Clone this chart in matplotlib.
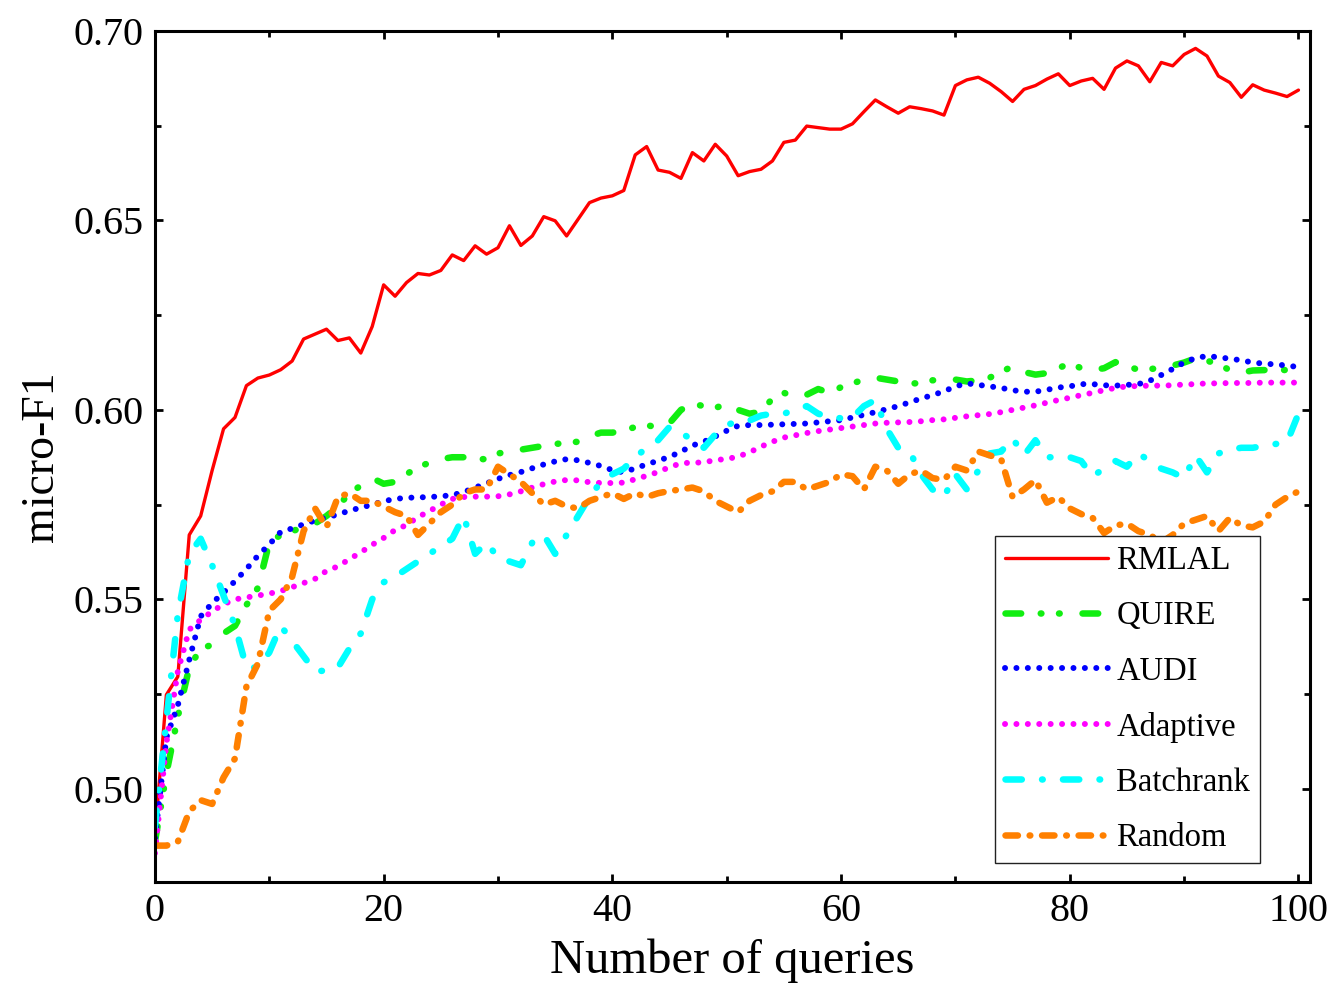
import matplotlib
matplotlib.use("Agg")
import matplotlib.pyplot as plt
from matplotlib.ticker import MultipleLocator, FormatStrFormatter

queries = list(range(0, 101))

rmlal = [0.4874, 0.5248, 0.5296, 0.5670, 0.5720, 0.5840, 0.5950, 0.5980, 0.6064, 0.6084,
         0.6092, 0.6106, 0.6129, 0.6187, 0.6200, 0.6213, 0.6183, 0.6190, 0.6150, 0.6220,
         0.6330, 0.6300, 0.6336, 0.6360, 0.6356, 0.6368, 0.6409, 0.6394, 0.6433, 0.6411,
         0.6428, 0.6486, 0.6434, 0.6459, 0.6510, 0.6499, 0.6459, 0.6503, 0.6547, 0.6559,
         0.6565, 0.6579, 0.6673, 0.6695, 0.6633, 0.6627, 0.6611, 0.6679, 0.6657, 0.6701,
         0.6670, 0.6618, 0.6629, 0.6635, 0.6657, 0.6706, 0.6712, 0.6749, 0.6745, 0.6741,
         0.6741, 0.6755, 0.6787, 0.6818, 0.6800, 0.6783, 0.6800, 0.6795, 0.6789, 0.6778,
         0.6856, 0.6871, 0.6878, 0.6862, 0.6840, 0.6814, 0.6846, 0.6856, 0.6873, 0.6887,
         0.6856, 0.6868, 0.6875, 0.6846, 0.6902, 0.6921, 0.6908, 0.6866, 0.6917, 0.6908,
         0.6938, 0.6954, 0.6934, 0.6881, 0.6864, 0.6825, 0.6858, 0.6844, 0.6836, 0.6827,
         0.6844]

quire = [0.4860, 0.5040, 0.5190, 0.5320, 0.5370, 0.5380, 0.5410, 0.5430, 0.5485, 0.5530,
         0.5650, 0.5670, 0.5680, 0.5690, 0.5700, 0.5720, 0.5745, 0.5780, 0.5800, 0.5820,
         0.5805, 0.5810, 0.5830, 0.5850, 0.5860, 0.5870, 0.5875, 0.5875, 0.5870, 0.5870,
         0.5885, 0.5890, 0.5895, 0.5900, 0.5905, 0.5910, 0.5913, 0.5916, 0.5930, 0.5940,
         0.5940, 0.5945, 0.5955, 0.5960, 0.5953, 0.5965, 0.6000, 0.6016, 0.6010, 0.6005,
         0.6016, 0.6000, 0.5990, 0.5995, 0.6030, 0.6045, 0.6035, 0.6040, 0.6055, 0.6045,
         0.6060, 0.6070, 0.6080, 0.6085, 0.6080, 0.6075, 0.6070, 0.6070, 0.6078, 0.6080,
         0.6080, 0.6075, 0.6078, 0.6085, 0.6100, 0.6115, 0.6100, 0.6093, 0.6097, 0.6110,
         0.6123, 0.6110, 0.6105, 0.6110, 0.6126, 0.6115, 0.6106, 0.6108, 0.6110, 0.6117,
         0.6125, 0.6136, 0.6130, 0.6120, 0.6105, 0.6098, 0.6104, 0.6105, 0.6106, 0.6105,
         0.6104]

audi = [0.4870, 0.5135, 0.5220, 0.5340, 0.5455, 0.5490, 0.5518, 0.5548, 0.5580, 0.5615,
        0.5645, 0.5678, 0.5687, 0.5698, 0.5708, 0.5716, 0.5724, 0.5734, 0.5742, 0.5750,
        0.5759, 0.5765, 0.5768, 0.5769, 0.5770, 0.5772, 0.5775, 0.5783, 0.5795, 0.5806,
        0.5818, 0.5828, 0.5836, 0.5846, 0.5856, 0.5864, 0.5870, 0.5867, 0.5860, 0.5852,
        0.5841, 0.5835, 0.5846, 0.5856, 0.5866, 0.5876, 0.5890, 0.5906, 0.5916, 0.5930,
        0.5945, 0.5958, 0.5960, 0.5960, 0.5961, 0.5962, 0.5963, 0.5964, 0.5967, 0.5970,
        0.5973, 0.5980, 0.5987, 0.5994, 0.6002, 0.6010, 0.6020, 0.6030, 0.6039, 0.6049,
        0.6062, 0.6070, 0.6066, 0.6062, 0.6058, 0.6052, 0.6048, 0.6048, 0.6053, 0.6059,
        0.6062, 0.6068, 0.6068, 0.6065, 0.6064, 0.6066, 0.6068, 0.6077, 0.6092, 0.6108,
        0.6125, 0.6137, 0.6142, 0.6139, 0.6135, 0.6131, 0.6125, 0.6122, 0.6120, 0.6117,
        0.6113]

adaptive = [0.4830, 0.5120, 0.5310, 0.5420, 0.5446, 0.5468, 0.5487, 0.5500, 0.5505, 0.5510,
            0.5515, 0.5522, 0.5532, 0.5543, 0.5554, 0.5575, 0.5587, 0.5606, 0.5624, 0.5644,
            0.5662, 0.5683, 0.5696, 0.5717, 0.5733, 0.5750, 0.5765, 0.5770, 0.5771, 0.5771,
            0.5772, 0.5777, 0.5785, 0.5795, 0.5804, 0.5811, 0.5815, 0.5814, 0.5809, 0.5807,
            0.5807, 0.5808, 0.5817, 0.5826, 0.5836, 0.5849, 0.5859, 0.5861, 0.5861, 0.5868,
            0.5870, 0.5877, 0.5888, 0.5903, 0.5916, 0.5927, 0.5933, 0.5939, 0.5944, 0.5948,
            0.5952, 0.5956, 0.5960, 0.5964, 0.5966, 0.5967, 0.5968, 0.5970, 0.5973, 0.5975,
            0.5979, 0.5983, 0.5986, 0.5989, 0.5994, 0.6000, 0.6006, 0.6012, 0.6019, 0.6026,
            0.6032, 0.6039, 0.6045, 0.6052, 0.6058, 0.6062, 0.6063, 0.6064, 0.6064, 0.6065,
            0.6067, 0.6068, 0.6070, 0.6070, 0.6071, 0.6071, 0.6071, 0.6072, 0.6072, 0.6072,
            0.6072]

batchrank = [0.4900, 0.5180, 0.5460, 0.5620, 0.5660, 0.5590, 0.5510, 0.5430, 0.5320, 0.5320,
             0.5360, 0.5430, 0.5390, 0.5350, 0.5310, 0.5312, 0.5320, 0.5370, 0.5410, 0.5500,
             0.5545, 0.5560, 0.5580, 0.5600, 0.5620, 0.5640, 0.5660, 0.5720, 0.5620, 0.5650,
             0.5610, 0.5600, 0.5590, 0.5650, 0.5670, 0.5620, 0.5670, 0.5720, 0.5770, 0.5810,
             0.5830, 0.5845, 0.5875, 0.5900, 0.5920, 0.5955, 0.5940, 0.5920, 0.5900, 0.5935,
             0.5960, 0.5970, 0.5972, 0.5985, 0.5990, 0.5990, 0.6000, 0.6010, 0.5990, 0.5980,
             0.5978, 0.5980, 0.6010, 0.6026, 0.5950, 0.5900, 0.5890, 0.5830, 0.5790, 0.5770,
             0.5830, 0.5790, 0.5840, 0.5885, 0.5890, 0.5925, 0.5880, 0.5920, 0.5875, 0.5875,
             0.5875, 0.5865, 0.5825, 0.5845, 0.5865, 0.5850, 0.5885, 0.5865, 0.5845, 0.5835,
             0.5820, 0.5880, 0.5835, 0.5885, 0.5895, 0.5900, 0.5900, 0.5905, 0.5910, 0.5915,
             0.5990]

random_q = [0.4850, 0.4850, 0.4860, 0.4940, 0.4970, 0.4960, 0.5030, 0.5080, 0.5270, 0.5330,
            0.5470, 0.5500, 0.5560, 0.5680, 0.5740, 0.5690, 0.5770, 0.5780, 0.5760, 0.5760,
            0.5745, 0.5730, 0.5720, 0.5670, 0.5700, 0.5730, 0.5750, 0.5780, 0.5790, 0.5790,
            0.5850, 0.5830, 0.5810, 0.5780, 0.5750, 0.5760, 0.5745, 0.5740, 0.5760, 0.5770,
            0.5780, 0.5765, 0.5780, 0.5770, 0.5780, 0.5786, 0.5790, 0.5795, 0.5785, 0.5760,
            0.5745, 0.5730, 0.5760, 0.5775, 0.5785, 0.5810, 0.5810, 0.5790, 0.5800, 0.5810,
            0.5830, 0.5825, 0.5790, 0.5850, 0.5840, 0.5805, 0.5830, 0.5840, 0.5820, 0.5815,
            0.5850, 0.5840, 0.5890, 0.5880, 0.5870, 0.5770, 0.5790, 0.5815, 0.5755, 0.5770,
            0.5740, 0.5725, 0.5715, 0.5675, 0.5695, 0.5700, 0.5680, 0.5670, 0.5650, 0.5670,
            0.5700, 0.5710, 0.5720, 0.5680, 0.5715, 0.5695, 0.5690, 0.5705, 0.5750, 0.5770,
            0.5785]

series_names = ["RMLAL", "QUIRE", "AUDI", "Adaptive", "Batchrank", "Random"]
x_ticks = [0, 20, 40, 60, 80, 100]
y_ticks = [0.50, 0.55, 0.60, 0.65, 0.70]

plt.rcParams['font.family'] = ['Liberation Serif', 'DejaVu Serif']

fig = plt.figure(figsize=(13.38, 9.9), dpi=100)
ax = fig.add_axes([0.1158, 0.1091, 0.8632, 0.8596])

common = dict(dash_capstyle='round', solid_capstyle='round', solid_joinstyle='round')
ax.plot(queries, rmlal, color='#ff0000', lw=2.4, label=series_names[0], **common)
ax.plot(queries, quire, color='#11ee11', lw=4.7, ls=(0, (2.4, 3.0, 0.1, 2.7, 0.1, 3.5)),
        label=series_names[1], **common)
ax.plot(queries, audi, color='#0000ff', lw=4.3, ls=(0, (0.01, 1.9)), label=series_names[2], **common)
ax.plot(queries, adaptive, color='#ff00ff', lw=4.3, ls=(0, (0.01, 1.9)), label=series_names[3], **common)
ax.plot(queries, batchrank, color='#00ffff', lw=4.7, ls=(0, (2.5, 3.1, 0.1, 3.1)),
        label=series_names[4], **common)
ax.plot(queries, random_q, color='#ff8000', lw=4.7, ls=(0, (1.9, 1.8, 0.1, 1.8)),
        label=series_names[5], **common)

ax.set_xlim(0, 101)
ax.set_ylim(0.4754, 0.70)
ax.set_xticks(x_ticks)
ax.set_yticks(y_ticks)
ax.xaxis.set_minor_locator(MultipleLocator(10))
ax.yaxis.set_minor_locator(MultipleLocator(0.025))
ax.yaxis.set_major_formatter(FormatStrFormatter('%.2f'))
ax.tick_params(which='both', direction='in', top=True, right=True, width=2.0, labelsize=28.8)
ax.tick_params(which='major', length=6, pad=8)
ax.tick_params(which='minor', length=4)
for sp in ax.spines.values():
    sp.set_linewidth(2.2)

ax.set_xlabel('Number of queries', fontsize=35, labelpad=6)
ax.set_ylabel('micro-F1', fontsize=33, labelpad=8)

leg = ax.legend(loc='lower right', bbox_to_anchor=(0.9567, 0.0223), fontsize=23.5,
                frameon=True, fancybox=False, framealpha=1, edgecolor='#222222',
                borderpad=0.3, handlelength=3.15, handletextpad=0.25, labelspacing=0.76,
                borderaxespad=0)
leg.get_frame().set_linewidth(1.0)

fig.savefig('out.png', dpi=100)
